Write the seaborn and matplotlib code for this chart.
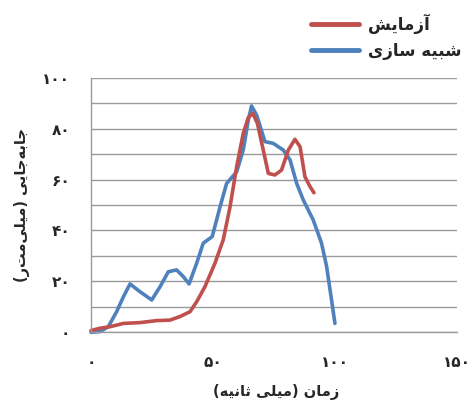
import matplotlib
matplotlib.use("Agg")
import matplotlib.pyplot as plt
import pandas as pd
import seaborn as sns
from matplotlib.lines import Line2D

# Values
sim_time = [0, 3.7, 7.1, 10.5, 13.3, 16, 20, 24.9, 28.3, 31.7, 35.1, 37.8, 40.2, 43.3,
            46, 49.7, 52.9, 55.6, 59.7, 62.4, 64.5, 65.8, 67.9, 71.3, 74.7, 78.8,
            81.6, 84.3, 87, 91.1, 94.5, 96.6, 98.6, 100]
sim_disp = [0, 0.3, 2.2, 8.1, 14, 19, 16, 12.7, 17.9, 23.8, 24.5, 21.9, 19, 27.1,
            35, 37.6, 49.3, 58.5, 63, 71.6, 83.4, 88.9, 85.3, 74.9, 74.2, 71.6,
            67.7, 58.5, 52, 44.1, 35, 25.8, 12.7, 3.5]

exp_time = [0, 3.7, 7.8, 13.3, 20, 26.9, 32.4, 36.5, 40.6, 43.3, 46.7, 50.8, 54.2,
            57, 59.7, 62.4, 64.5, 66.3, 68.2, 70.6, 72.7, 75.4, 78.1, 80.9, 83.6,
            85.7, 87.7, 89.8, 91.4]
exp_disp = [0.7, 1.6, 2.2, 3.5, 3.8, 4.6, 4.8, 6.2, 8.1, 12, 17.9, 27.1, 36.3,
            49.3, 65, 78.1, 84.4, 86, 82.1, 71.6, 62.4, 61.8, 63.7, 71.6, 75.8,
            72.9, 61.1, 57.2, 54.8]

x_ticks = [0, 50, 100, 150]
y_ticks = [0, 10, 20, 30, 40, 50, 60, 70, 80, 90, 100]

label_exp = "آزمایش"
label_sim = "شبیه سازی"
x_title = "زمان (میلی ثانیه)"
y_title = "جابه\u200cجایی (میلی\u200cمتر)"

# matplotlib has no Arabic shaping, so pick contextual forms by hand
FORMS = {
    "ا": ("\uFE8D", "\uFE8E", None, None),
    "آ": ("\uFE81", "\uFE82", None, None),
    "ز": ("\uFEAF", "\uFEB0", None, None),
    "ب": ("\uFE8F", "\uFE90", "\uFE91", "\uFE92"),
    "ت": ("\uFE95", "\uFE96", "\uFE97", "\uFE98"),
    "ث": ("\uFE99", "\uFE9A", "\uFE9B", "\uFE9C"),
    "ج": ("\uFE9D", "\uFE9E", "\uFE9F", "\uFEA0"),
    "س": ("\uFEB1", "\uFEB2", "\uFEB3", "\uFEB4"),
    "ش": ("\uFEB5", "\uFEB6", "\uFEB7", "\uFEB8"),
    "ل": ("\uFEDD", "\uFEDE", "\uFEDF", "\uFEE0"),
    "م": ("\uFEE1", "\uFEE2", "\uFEE3", "\uFEE4"),
    "ن": ("\uFEE5", "\uFEE6", "\uFEE7", "\uFEE8"),
    "ه": ("\uFEE9", "\uFEEA", "\uFEEB", "\uFEEC"),
    "ی": ("\uFBFC", "\uFBFD", "\uFBFE", "\uFBFF"),
}


def rtl(text):
    out = []
    for i, ch in enumerate(text):
        if ch not in FORMS:
            if ch != "\u200c":
                out.append(ch)
            continue
        prev = text[i - 1] if i > 0 else ""
        nxt = text[i + 1] if i + 1 < len(text) else ""
        dual = FORMS[ch][2] is not None
        j_prev = prev in FORMS and FORMS[prev][2] is not None
        j_next = dual and nxt in FORMS
        if j_prev and j_next:
            out.append(FORMS[ch][3])
        elif j_prev:
            out.append(FORMS[ch][1])
        elif j_next:
            out.append(FORMS[ch][2])
        else:
            out.append(FORMS[ch][0])
    vis = "".join(reversed(out))
    return vis.translate(str.maketrans("()", ")("))


def fa_num(v):
    return str(v).translate(str.maketrans("0123456789", "۰۱۲۳۴۵۶۷۸۹"))


sns.set_style("white")
plt.rcParams["font.family"] = ["DejaVu Sans"]

red = "#C0504D"
blue = "#4F81BD"
grid = "#9a9a9a"

fig = plt.figure(figsize=(4.73, 4.08), dpi=100)
ax = fig.add_axes([0.1924, 0.1855, 0.7736, 0.6241])

sim = pd.DataFrame({"t": sim_time, "d": sim_disp})
exp = pd.DataFrame({"t": exp_time, "d": exp_disp})
sns.lineplot(data=sim, x="t", y="d", color=blue, linewidth=2.6, estimator=None, ax=ax)
sns.lineplot(data=exp, x="t", y="d", color=red, linewidth=2.6, estimator=None, ax=ax)
for ln in ax.lines:
    ln.set_solid_joinstyle("round")
    ln.set_solid_capstyle("round")
    ln.set_clip_on(False)

ax.set_xlim(0, 150)
ax.set_ylim(0, 100)
ax.set_xticks(x_ticks)
ax.set_xticklabels([fa_num(v) for v in x_ticks], fontsize=11, fontweight="bold")
ax.set_yticks(y_ticks)
ax.set_yticklabels([fa_num(v) if v % 20 == 0 else "" for v in y_ticks],
                   fontsize=11, fontweight="bold")
ax.tick_params(axis="x", direction="out", length=5, width=1, color=grid, pad=11)
ax.tick_params(axis="y", direction="out", length=5, width=1, color=grid, pad=10)
ax.yaxis.grid(True, color=grid, linewidth=1)
ax.set_axisbelow(True)
ax.set_xlabel("")
ax.set_ylabel("")
for side in ["top", "right"]:
    ax.spines[side].set_visible(False)
for side in ["left", "bottom"]:
    ax.spines[side].set_color(grid)
    ax.spines[side].set_linewidth(1)

fig.text(276 / 473, 1 - 392 / 408, rtl(x_title), ha="center", va="center",
         fontsize=10.5, fontweight="bold")
fig.text(22 / 473, 1 - 205 / 408, rtl(y_title), ha="center", va="center",
         rotation=90, fontsize=10.5, fontweight="bold")

handles = [Line2D([], [], color=red, linewidth=3.5),
           Line2D([], [], color=blue, linewidth=3.5)]
fig.legend(handles, [rtl(label_exp), rtl(label_sim)], loc="upper left",
           bbox_to_anchor=(296 / 473, 1 + 1 / 408), frameon=False,
           prop={"size": 12, "weight": "bold"}, handlelength=2.9,
           handletextpad=0.5, labelspacing=0.45)

fig.savefig("out.png", dpi=100)
